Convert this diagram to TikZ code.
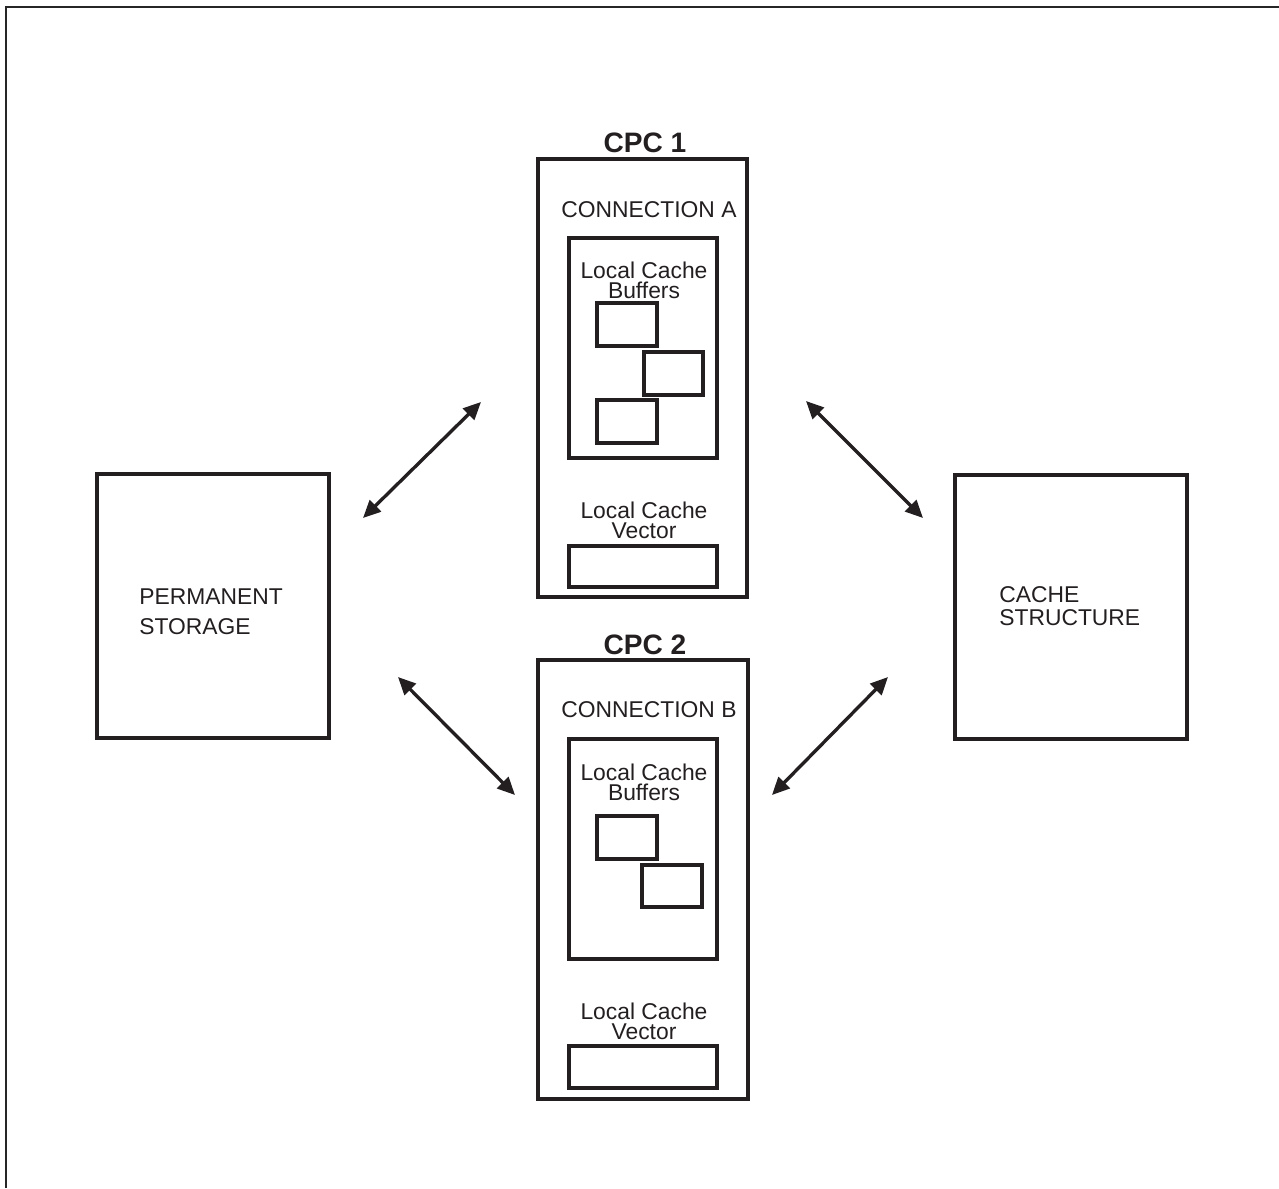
\documentclass[tikz,border=0pt]{standalone}
\usepackage{fontspec}
\setmainfont{Liberation Sans}
\usetikzlibrary{arrows.meta,fit}
\definecolor{ink}{RGB}{35,31,32}
\tikzset{
  box/.style={draw=ink, line width=1.9pt, inner sep=0pt, rectangle},
  title/.style={font=\bfseries\fontsize{16pt}{18pt}\selectfont, text=ink, inner sep=0pt},
  lbl/.style={font=\fontsize{13pt}{11.2pt}\selectfont, text=ink, inner sep=0pt, align=center},
  big/.style={text=ink, inner sep=0pt, align=left, anchor=west},
  arr/.style={draw=ink, line width=1.9pt, {Triangle[length=10pt,width=9pt]}-{Triangle[length=10pt,width=9pt]}},
}
\begin{document}
\begin{tikzpicture}[x=0.02cm, y=-0.02cm]
\useasboundingbox (0,0) rectangle (1279,1188);
% frame
\draw[line width=1.2pt, draw=black!85] (6,1188) -- (6,7) -- (1279,7);

% CPC 1
\node[box, fit={(538,159) (747,597)}] (cpc1) {};
\node[title] (cpc1t) at (645,143) {CPC 1};
\node[lbl] (conA) at (649,210) {CONNECTION A};
\node[box, fit={(569,238) (717,458)}] (buf1) {};
\node[lbl] (buf1t) at (644,280) {Local Cache\\Buffers};
\node[box, fit={(597,303) (657,346)}] (b11) {};
\node[box, fit={(644,352) (703,395)}] (b12) {};
\node[box, fit={(597,400) (657,443)}] (b13) {};
\node[lbl] (vec1t) at (644,520.5) {Local Cache\\Vector};
\node[box, fit={(569,546) (717,587)}] (vec1) {};

% CPC 2
\node[box, fit={(538,660) (748,1099)}] (cpc2) {};
\node[title] (cpc2t) at (645,645) {CPC 2};
\node[lbl] (conB) at (649,710) {CONNECTION B};
\node[box, fit={(569,739) (717,959)}] (buf2) {};
\node[lbl] (buf2t) at (644,782) {Local Cache\\Buffers};
\node[box, fit={(597,816) (657,859)}] (b21) {};
\node[box, fit={(642,865) (702,907)}] (b22) {};
\node[lbl] (vec2t) at (644,1021) {Local Cache\\Vector};
\node[box, fit={(569,1046) (717,1088)}] (vec2) {};

% Permanent storage
\node[box, fit={(97,474) (329,738)}] (ps) {};
\node[big, font=\fontsize{13pt}{17pt}\selectfont] (pst) at (139,612) {PERMANENT\\STORAGE};

% Cache structure
\node[box, fit={(955,475) (1187,739)}] (cs) {};
\node[big, font=\fontsize{13pt}{13pt}\selectfont] (cst) at (999,606.5) {CACHE\\STRUCTURE};

% arrow end points
\coordinate (a1s) at (363,518);
\coordinate (a1e) at (481,402);
\coordinate (a2s) at (398,677);
\coordinate (a2e) at (515,795);
\coordinate (a3s) at (806,401);
\coordinate (a3e) at (923,518);
\coordinate (a4s) at (772,795);
\coordinate (a4e) at (888,677);

\draw[arr] (a1s) -- (a1e);
\draw[arr] (a2s) -- (a2e);
\draw[arr] (a3s) -- (a3e);
\draw[arr] (a4s) -- (a4e);
\end{tikzpicture}
\end{document}
